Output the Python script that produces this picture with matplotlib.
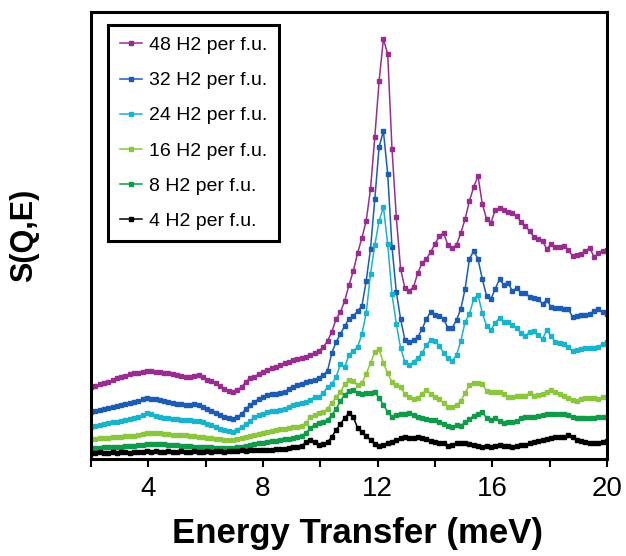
import numpy as np
import matplotlib
matplotlib.use("Agg")
from matplotlib import pyplot as plt
from matplotlib.ticker import MultipleLocator

plt.rcParams['font.family'] = ['Liberation Sans', 'DejaVu Sans']

# energy transfer grid (meV), 0.15 meV bins from 2 to 20
energy = np.round(np.arange(121) * 0.15 + 2.0, 2)

# S(Q,E), arbitrary units
h2_48 = [72, 73, 75, 76, 77, 79, 81, 82, 83, 85, 86, 86, 87, 88, 88, 87, 87, 86, 86, 85,
         84, 83, 82, 82, 83, 84, 82, 79, 78, 76, 73, 70, 68, 67, 69, 72, 77, 81, 82, 85,
         87, 89, 91, 92, 94, 96, 97, 99, 100, 101, 102, 104, 106, 108, 112, 118, 127, 140, 147, 158,
         174, 188, 206, 221, 238, 270, 322, 378, 420, 405, 310, 242, 190, 171, 168, 172, 186, 196, 200, 207,
         215, 223, 226, 214, 211, 214, 226, 240, 258, 272, 283, 255, 240, 236, 249, 251, 249, 247, 246, 243,
         237, 233, 228, 222, 220, 218, 210, 215, 212, 212, 213, 209, 203, 204, 205, 208, 211, 202, 206, 208,
         209]
h2_32 = [47, 48, 49, 50, 51, 52, 53, 54, 55, 56, 57, 58, 60, 61, 60, 60, 59, 58, 57, 56,
         55, 55, 54, 54, 55, 54, 52, 50, 48, 46, 44, 42, 41, 40, 42, 45, 50, 54, 57, 60,
         62, 64, 65, 65, 66, 67, 70, 72, 74, 75, 77, 78, 79, 81, 84, 88, 106, 117, 125, 133,
         140, 143, 148, 153, 178, 210, 260, 312, 328, 285, 212, 167, 140, 119, 117, 119, 122, 130, 140, 147,
         144, 143, 140, 131, 131, 139, 150, 170, 200, 208, 200, 180, 163, 160, 170, 180, 174, 176, 168, 171,
         166, 166, 162, 161, 160, 155, 159, 152, 151, 151, 150, 150, 142, 143, 144, 144, 145, 148, 150, 147,
         145]
h2_24 = [32, 33, 34, 35, 36, 37, 37, 38, 39, 40, 41, 42, 44, 46, 45, 43, 42, 41, 41, 40,
         40, 39, 39, 39, 38, 38, 37, 35, 34, 32, 30, 29, 28, 27, 29, 32, 35, 38, 42, 44,
         45, 47, 48, 48, 49, 50, 52, 54, 55, 56, 57, 59, 62, 62, 66, 72, 75, 82, 95, 92,
         104, 108, 112, 125, 146, 185, 214, 238, 252, 215, 165, 135, 111, 97, 94, 97, 101, 106, 114, 119,
         118, 113, 106, 101, 98, 104, 118, 137, 145, 160, 164, 146, 133, 129, 136, 141, 137, 137, 134, 131,
         126, 123, 127, 128, 124, 120, 129, 123, 117, 116, 115, 112, 108, 109, 110, 111, 111, 111, 112, 115,
         117]
h2_16 = [20, 20, 21, 21, 21, 22, 22, 22, 23, 23, 23, 24, 25, 26, 26, 26, 26, 25, 25, 24,
         24, 24, 24, 23, 23, 22, 22, 21, 21, 20, 20, 19, 19, 19, 20, 21, 22, 23, 24, 25,
         26, 27, 28, 29, 30, 30, 31, 32, 32, 33, 36, 42, 44, 46, 47, 50, 56, 62, 67, 75,
         79, 78, 74, 76, 85, 96, 107, 110, 96, 86, 77, 74, 72, 65, 62, 60, 61, 65, 69, 65,
         62, 60, 56, 52, 52, 54, 58, 66, 74, 76, 76, 75, 68, 67, 67, 67, 65, 62, 62, 63,
         63, 63, 66, 63, 64, 65, 67, 69, 67, 65, 63, 61, 59, 58, 60, 61, 61, 61, 60, 62,
         62]
h2_8 = [11, 11, 11, 12, 12, 12, 12, 12, 13, 13, 13, 14, 14, 15, 15, 15, 15, 15, 14, 14,
        14, 13, 13, 13, 12, 12, 12, 12, 12, 11, 11, 11, 11, 11, 12, 12, 13, 14, 15, 16,
        16, 17, 18, 18, 19, 20, 20, 21, 22, 23, 26, 31, 34, 36, 37, 39, 44, 50, 58, 64,
        68, 69, 66, 65, 66, 66, 67, 61, 54, 47, 42, 44, 45, 45, 46, 44, 42, 41, 40, 39,
        39, 37, 35, 33, 32, 34, 33, 37, 40, 43, 45, 47, 41, 39, 41, 38, 36, 37, 37, 38,
        41, 42, 42, 42, 43, 44, 45, 45, 45, 45, 45, 44, 42, 41, 41, 41, 41, 41, 42, 42,
        42]
h2_4 = [6, 6, 7, 6, 6, 7, 6, 7, 7, 6, 7, 7, 7, 8, 7, 8, 7, 7, 8, 7,
        7, 8, 7, 7, 8, 7, 7, 8, 7, 8, 8, 7, 8, 8, 8, 9, 8, 9, 9, 9,
        9, 9, 9, 10, 10, 10, 11, 12, 12, 13, 17, 19, 17, 14, 15, 17, 22, 29, 35, 41,
        46, 42, 31, 27, 23, 19, 15, 13, 14, 16, 17, 19, 21, 22, 21, 21, 22, 21, 20, 18,
        17, 16, 16, 13, 14, 16, 16, 16, 15, 14, 13, 12, 13, 12, 13, 14, 13, 13, 12, 13,
        14, 14, 16, 17, 18, 19, 20, 21, 22, 22, 22, 24, 22, 19, 18, 17, 16, 16, 16, 17,
        18]

labels = ["48 H2 per f.u.", "32 H2 per f.u.", "24 H2 per f.u.",
          "16 H2 per f.u.", "8 H2 per f.u.", "4 H2 per f.u."]
series = [h2_48, h2_32, h2_24, h2_16, h2_8, h2_4]
colors = ["#992d8f", "#1c5cb3", "#1ab3cc", "#8cc63f", "#119a4a", "#000000"]

fig = plt.figure(figsize=(6.26, 5.56), dpi=100)
ax = fig.add_axes([91 / 626, 1 - 459 / 556, 516 / 626, 447 / 556])

for y, c, lab in zip(series, colors, labels):
    ax.plot(energy, y, color=c, lw=1.1, marker="s", ms=2.9, mec=c, mfc=c, label=lab)

ax.set_xlim(2, 20)
ax.set_ylim(0, 447)
ax.xaxis.set_major_locator(MultipleLocator(4))
ax.xaxis.set_minor_locator(MultipleLocator(2))
ax.tick_params(axis="x", which="both", direction="out", length=6, width=1.5,
               labelsize=20, pad=6)
ax.set_yticks([])
for sp in ax.spines.values():
    sp.set_linewidth(2.2)

ax.set_xlabel("Energy Transfer (meV)", fontsize=25, fontweight="bold")
ax.xaxis.set_label_coords(0.517, -0.13)
ax.set_ylabel("S(Q,E)", fontsize=22, fontweight="bold")
ax.yaxis.set_label_coords(-0.10, 0.5)

leg = ax.legend(loc="upper left", bbox_to_anchor=(0.033, 0.971), borderaxespad=0,
                fontsize=14, frameon=True, fancybox=False, edgecolor="black",
                framealpha=1, handlelength=1.15, handletextpad=0.35,
                labelspacing=0.9, borderpad=0.6)
leg.get_frame().set_linewidth(2.2)

fig.savefig("out.png", dpi=100)
